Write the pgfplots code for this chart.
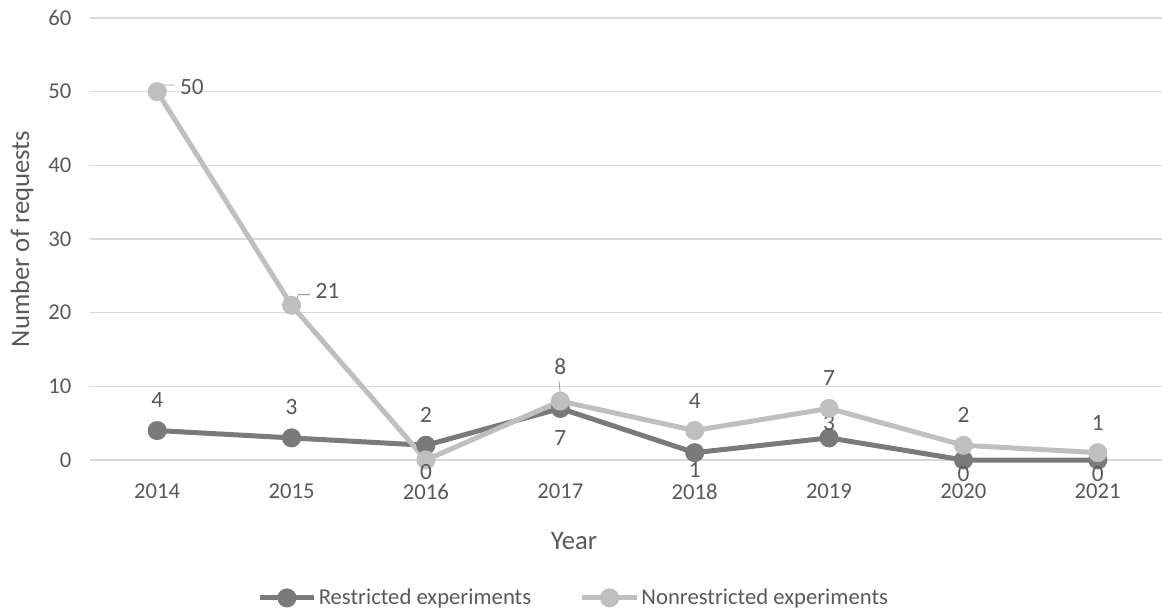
\documentclass[border=0pt]{standalone}
\usepackage{pgfplots}
\pgfplotsset{compat=1.18}
\usepackage{pgfplotstable}
\usepackage{fontspec}
\setmainfont{Carlito}
\definecolor{darkser}{HTML}{7A7A7A}
\definecolor{lightser}{HTML}{BFBFBF}
\definecolor{txt}{HTML}{595959}
\definecolor{gridc}{HTML}{D9D9D9}

\pgfplotstableread{
x y dx dy
2014 4 0 23
2015 3 0 23
2016 2 0 22.5
2017 7 0 -22
2018 1 0 -13
2019 3 0 11
2020 0 0 -10.5
2021 0 0 -10.5
}\restricted

\pgfplotstableread{
x y dx dy
2014 50 26 3.5
2015 21 27 10.5
2016 0 0 -9
2017 8 0 25.5
2018 4 0 22.5
2019 7 0 22.5
2020 2 0 22.5
2021 1 0 22.5
}\nonrestricted

\begin{document}
\fontsize{17.5}{20}\selectfont
\begin{tikzpicture}
\useasboundingbox (0,0) rectangle (871.5pt,459pt);
\begin{axis}[
  at={(67.5pt,114pt)}, anchor=south west,
  scale only axis, width=806.25pt, height=331.5pt,
  xmin=2013.5, xmax=2021.5, ymin=0, ymax=60,
  xtick={2014,...,2021}, ytick={0,10,...,60},
  xticklabel style={/pgf/number format/1000 sep={}},
  /pgf/number format/assume math mode=true,
  x tick label style={yshift=-12pt},
  y tick label style={xshift=-8pt},
  ticklabel style={color=txt, font=\fontsize{17}{20}\selectfont},
  major tick length=0pt,
  axis line style={draw=none},
  xmajorgrids=false, ymajorgrids=true,
  major grid style={draw=gridc, line width=1.1pt},
  clip=false,
  legend style={at={(0.4498,-0.312)}, anchor=center, draw=none, fill=none,
    legend columns=2, font=\fontsize{17}{20}\selectfont, text=txt,
    /tikz/every even column/.append style={column sep=35pt},
    inner sep=0pt, /tikz/every node/.append style={inner xsep=1.5pt}},
  legend cell align=left,
  legend image code/.code={\draw[mark repeat=2,mark phase=2,#1] plot coordinates {(0pt,0pt) (20.5pt,0pt) (41pt,0pt)};},
  nodes near coords={\pgfmathprintnumber{\pgfplotspointmeta}},
  point meta=y,
  visualization depends on={\thisrow{dx} \as \dx},
  visualization depends on={\thisrow{dy} \as \dy},
  every node near coord/.style={anchor=center, xshift=\dx pt, yshift=\dy pt, color=txt, font=\fontsize{17.5}{20}\selectfont},
]
\addplot[darkser, line width=3.75pt, mark=*, mark size=5.25pt, mark options={solid}] table[x=x,y=y] {\restricted};
\addlegendentry{Restricted experiments}
\addplot[lightser, line width=3.75pt, mark=*, mark size=5.25pt, mark options={solid}] table[x=x,y=y] {\nonrestricted};
\addlegendentry{Nonrestricted experiments}
% leader lines
\draw[lightser!80!black, line width=0.6pt] (axis cs:2014,50) ++(3pt,2pt) -- ++(2pt,3pt) -- ++(8pt,0pt);
\draw[lightser!80!black, line width=0.6pt] (axis cs:2015,21) ++(3pt,3pt) -- ++(2pt,5pt) -- ++(9pt,0pt);
\draw[lightser!80!black, line width=0.6pt] (axis cs:2017,8) ++(0pt,5pt) -- ++(-1pt,10pt);
\end{axis}
\node[color=txt, rotate=90, font=\fontsize{20}{24}\selectfont] at (16.5pt,279.75pt) {Number of requests};
\node[color=txt, font=\fontsize{20}{24}\selectfont] at (430.5pt,53.25pt) {Year};
\end{tikzpicture}
\end{document}
